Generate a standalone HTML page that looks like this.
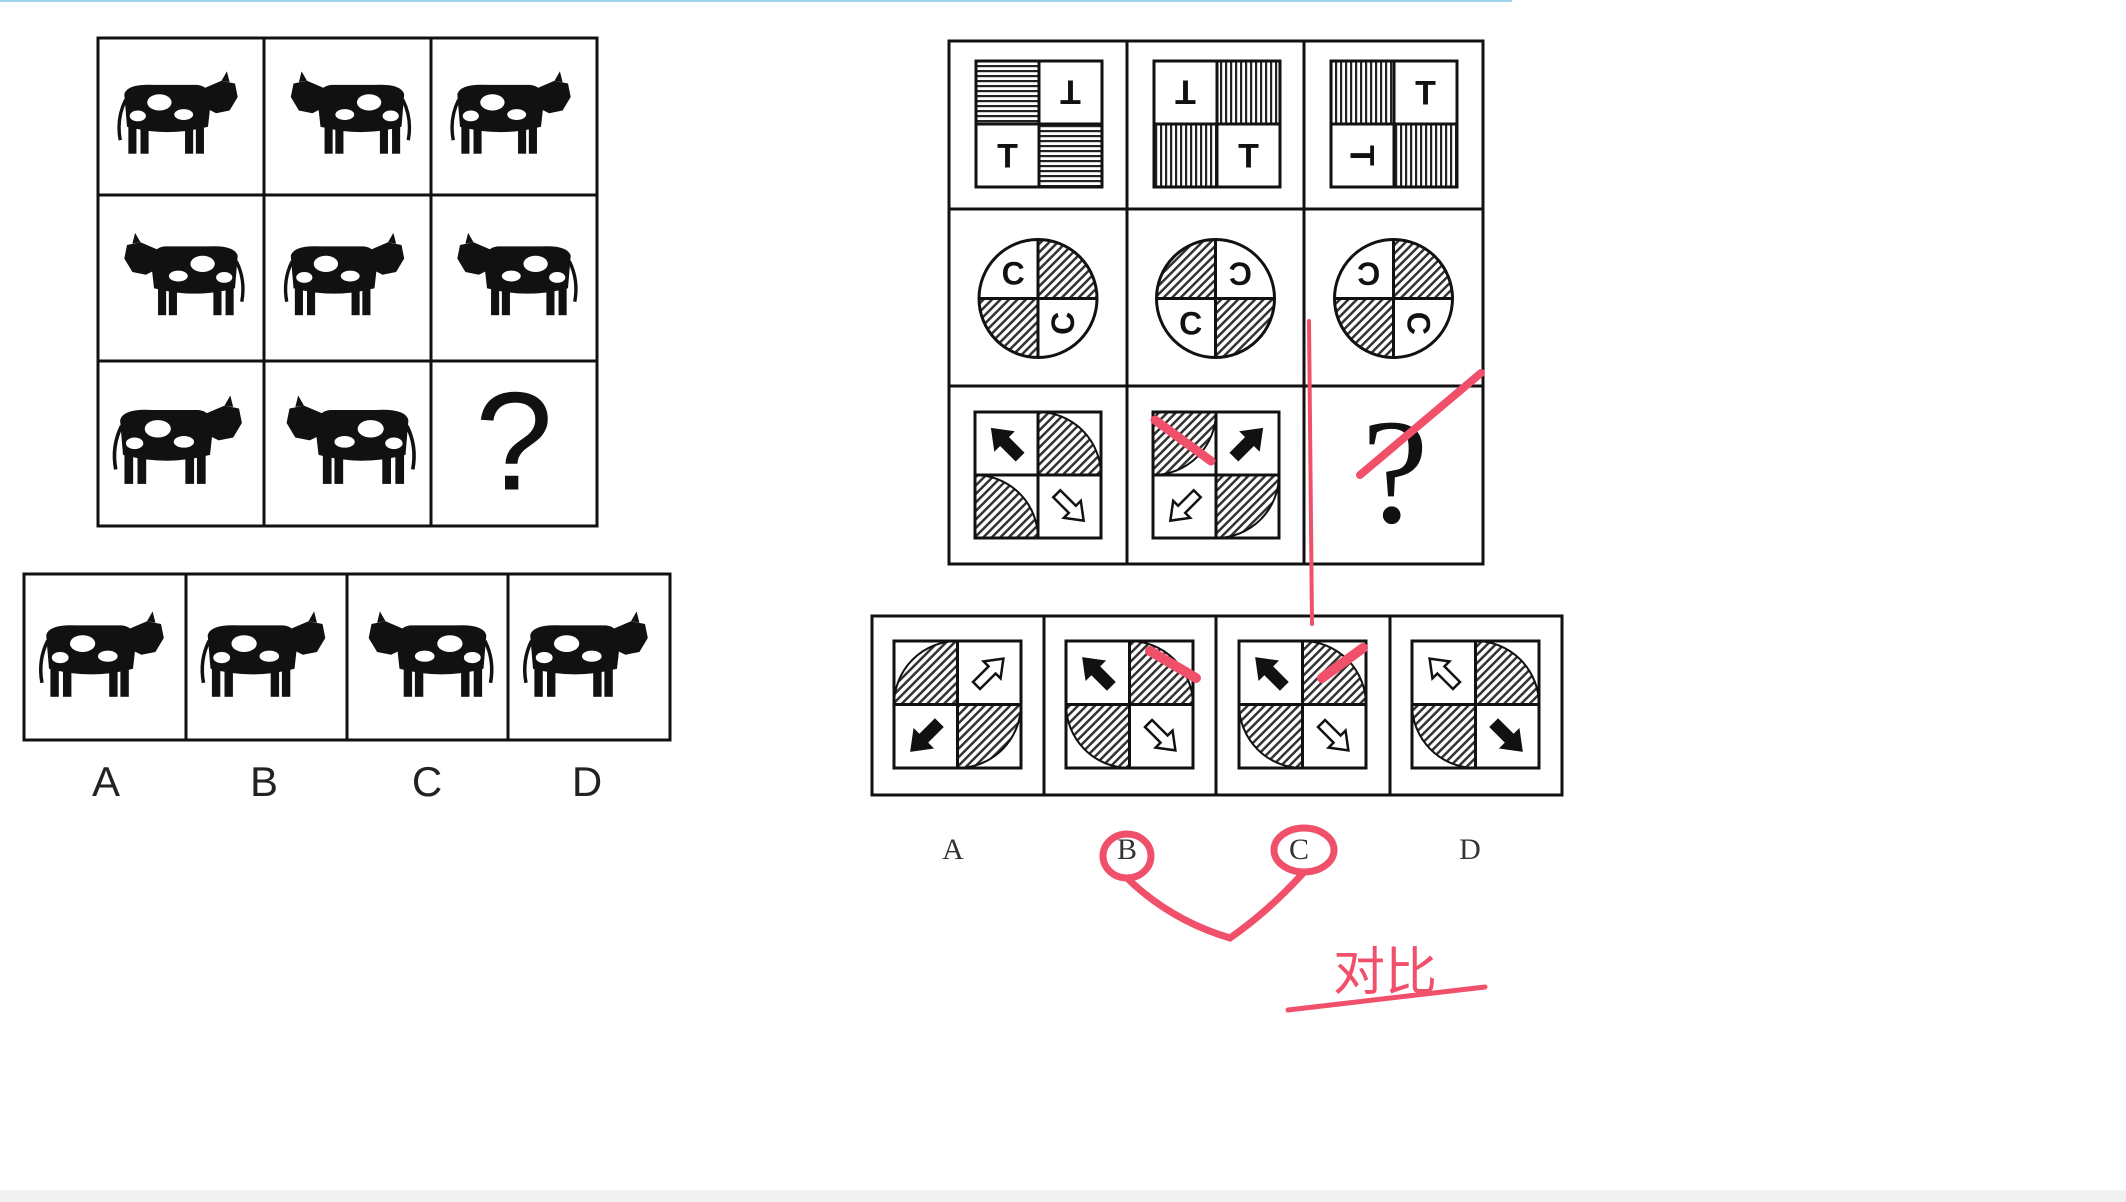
<!DOCTYPE html>
<html><head><meta charset="utf-8"><style>
html,body{margin:0;padding:0;background:#fff;width:2126px;height:1202px;overflow:hidden}
svg{display:block}
</style></head><body>
<svg id="s" width="2126" height="1202" xmlns="http://www.w3.org/2000/svg">
<defs>
<pattern id="hd" width="6" height="6" patternUnits="userSpaceOnUse" patternTransform="rotate(45)"><rect width="6" height="6" fill="#fff"/><rect width="2.5" height="6" fill="#333"/></pattern>
<pattern id="hh" width="5" height="5" patternUnits="userSpaceOnUse"><rect width="5" height="5" fill="#fff"/><rect width="5" height="2.2" fill="#222"/></pattern>
<pattern id="hv" width="5" height="5" patternUnits="userSpaceOnUse"><rect width="5" height="5" fill="#fff"/><rect width="2.2" height="5" fill="#222"/></pattern>
</defs>
<rect x="0" y="0" width="1512" height="2" fill="#9fd3f0"/>
<rect x="0" y="1190" width="2126" height="12" fill="#f1f1f1"/>
<g id="g"></g>
</svg>
<script>
const NS='http://www.w3.org/2000/svg';
const g=document.getElementById('g');
function el(t,a,p){const e=document.createElementNS(NS,t);for(const k in a)e.setAttribute(k,a[k]);(p||g).appendChild(e);return e;}
function grp(name,p){const e=el('g',{},p);return e;}
// cow glyph
function cow(cx,cy,s,flip,p){
  const c=grp('cow',p);
  cx+= flip? 10*s : -10*s;
  c.setAttribute('transform',`translate(${cx},${cy}) scale(${flip?-s:s},${s})`);
  el('path',{d:'M-32,-12 Q-30,-20 -10,-19 L22,-19 Q32,-18 32,-6 L30,12 Q0,20 -30,12 Z',fill:'#111'},c);
  el('path',{d:'M26,-16 L40,-22 L50,-20 L52,-10 L46,0 L36,2 L28,-2 Z',fill:'#111'},c);
  el('path',{d:'M40,-22 L44,-29 L46,-21Z',fill:'#111'},c);
  [[-26,-1],[-17,1],[16,0],[24,2]].forEach(l=>el('rect',{x:l[0]-3,y:6,width:6,height:26,fill:'#111'},c));
  el('ellipse',{cx:-6,cy:-6,rx:9,ry:6,fill:'#fff'},c);
  el('ellipse',{cx:12,cy:3,rx:7,ry:4,fill:'#fff'},c);
  el('ellipse',{cx:-22,cy:4,rx:6,ry:4,fill:'#fff'},c);
  el('path',{d:'M-31,-8 Q-38,6 -35,22',stroke:'#111','stroke-width':2.5,fill:'none'},c);
}
// left grid
const LX=[98,264,431,597], LY=[38,195,361,526];
const lg=grp('left-matrix');
el('rect',{x:98,y:38,width:499,height:488,fill:'none',stroke:'#111','stroke-width':3},lg);
LX.slice(1,3).forEach(x=>el('line',{x1:x,y1:38,x2:x,y2:526,stroke:'#111','stroke-width':3},lg));
LY.slice(1,3).forEach(y=>el('line',{x1:98,y1:y,x2:597,y2:y,stroke:'#111','stroke-width':3},lg));
const cowFlip=[[0,1,0],[1,0,1],[0,1]];
for(let r=0;r<3;r++)for(let c=0;c<3;c++){
  const cx=(LX[c]+LX[c+1])/2, cy=(LY[r]+LY[r+1])/2-6;
  if(r==2&&c==2){const t=el('text',{x:cx,y:cy+52,'font-size':140,'font-family':'Liberation Sans, sans-serif','text-anchor':'middle',fill:'#111'},lg);t.textContent='?';continue;}
  cow(cx,cy,r==2?1.45:1.35,cowFlip[r][c],lg);
}
const lo=grp('left-options');
el('rect',{x:24,y:574,width:646,height:166,fill:'none',stroke:'#111','stroke-width':3},lo);
[186,347,508].forEach(x=>el('line',{x1:x,y1:574,x2:x,y2:740,stroke:'#111','stroke-width':3},lo));
const optX=[24,186,347,508,670], labs=['A','B','C','D'], lLabX=[106,264,427,587];
for(let i=0;i<4;i++){cow((optX[i]+optX[i+1])/2,652,1.4,i==2,lo);
  const t=el('text',{x:lLabX[i],y:796,'font-size':42,'font-family':'Liberation Sans, sans-serif','text-anchor':'middle',fill:'#222'},lo);t.textContent=labs[i];}
// right grid
const RX=[949,1127,1304,1483], RY=[41,209,386,564];
const rg=grp('right-matrix');
el('rect',{x:949,y:41,width:534,height:523,fill:'none',stroke:'#111','stroke-width':3},rg);
RX.slice(1,3).forEach(x=>el('line',{x1:x,y1:41,x2:x,y2:564,stroke:'#111','stroke-width':3},rg));
RY.slice(1,3).forEach(y=>el('line',{x1:949,y1:y,x2:1483,y2:y,stroke:'#111','stroke-width':3},rg));
const tCells=[['h','T180','T0','h'],['T180','v','v','T0'],['v','T0','T90','v']];
function quadBox(x,y,s,content,p){
  const q=s/2,pos=[[0,0],[q,0],[0,q],[q,q]];
  content.forEach((ct,i)=>{const qx=x+pos[i][0],qy=y+pos[i][1];
    if(ct=='h'||ct=='v')el('rect',{x:qx,y:qy,width:q,height:q,fill:`url(#h${ct})`},p);
    else{const rot=+ct.slice(1);const t=el('text',{x:qx+q/2,y:qy+q/2+12,'font-size':34,'font-weight':'bold','font-family':'Liberation Sans, sans-serif','text-anchor':'middle',fill:'#111',transform:`rotate(${rot} ${qx+q/2} ${qy+q/2})`},p);t.textContent='T';}
  });
  el('rect',{x,y,width:s,height:s,fill:'none',stroke:'#111','stroke-width':3},p);
  el('line',{x1:x+q,y1:y,x2:x+q,y2:y+s,stroke:'#111','stroke-width':3},p);
  el('line',{x1:x,y1:y+q,x2:x+s,y2:y+q,stroke:'#111','stroke-width':3},p);
}
for(let c=0;c<3;c++){const cg=grp('t-square-cell',rg);quadBox(RX[c]+27,RY[0]+20,126,tCells[c],cg);}
const cCells=[['C0','hd','hd','C270'],['hd','C180','C0','hd'],['C180','hd','hd','C90']];
for(let c=0;c<3;c++){const cg=grp('circle-cell',rg);const cx=(RX[c]+RX[c+1])/2,cy=(RY[1]+RY[2])/2+1,r=59;
  el('circle',{cx,cy,r,fill:'#fff'},cg);
  const d=[[-1,-1],[1,-1],[-1,1],[1,1]];
  cCells[c].forEach((ct,i)=>{const sx=d[i][0],sy=d[i][1];
    if(ct=='hd')el('path',{d:`M${cx},${cy} L${cx+sx*r},${cy} A${r},${r} 0 0 ${sx*sy>0?1:0} ${cx},${cy+sy*r} Z`,fill:'url(#hd)'},cg);
    else{const tx=cx+sx*r*0.42,ty=cy+sy*r*0.42;const t=el('text',{x:tx,y:ty+11,'font-size':32,'font-weight':'bold','font-family':'Liberation Sans, sans-serif','text-anchor':'middle',fill:'#111',transform:`rotate(${+ct.slice(1)} ${tx} ${ty})`},cg);t.textContent='C';}
  });
  el('circle',{cx,cy,r,fill:'none',stroke:'#111','stroke-width':3},cg);
  el('line',{x1:cx-r,y1:cy,x2:cx+r,y2:cy,stroke:'#111','stroke-width':3},cg);
  el('line',{x1:cx,y1:cy-r,x2:cx,y2:cy+r,stroke:'#111','stroke-width':3},cg);
}
function arrow(cx,cy,ang,filled,p){
  const a=el('path',{d:'M0,-20 L12,-4 L5,-4 L5,18 L-5,18 L-5,-4 L-12,-4 Z',fill:filled?'#111':'#fff',stroke:'#111','stroke-width':2.5,transform:`translate(${cx},${cy}) rotate(${ang})`},p);
  
}
function arrowBox(x,y,s,content,p){
  const q=s/2,pos=[[0,0],[q,0],[0,q],[q,q]];
  el('rect',{x,y,width:s,height:s,fill:'#fff'},p);
  content.forEach((ct,i)=>{const qx=x+pos[i][0],qy=y+pos[i][1];
    if(ct[0]=='Q'){const k=ct.slice(1);const ox=k[1]=='l'?qx:qx+q,oy=k[0]=='t'?qy:qy+q;
      const ex=k[1]=='l'?qx+q:qx, ey=k[0]=='t'?qy+q:qy;
      const sw=((k=='tl'||k=='br')?1:0);
      el('path',{d:`M${ox},${oy} L${ex},${oy} A${q},${q} 0 0 ${sw} ${ox},${ey} Z`,fill:'url(#hd)',stroke:'#111','stroke-width':2},p);}
    else arrow(qx+q/2,qy+q/2,+ct.slice(1),ct[0]=='A',p);
  });
  el('rect',{x,y,width:s,height:s,fill:'none',stroke:'#111','stroke-width':3},p);
  el('line',{x1:x+q,y1:y,x2:x+q,y2:y+s,stroke:'#111','stroke-width':3},p);
  el('line',{x1:x,y1:y+q,x2:x+s,y2:y+q,stroke:'#111','stroke-width':3},p);
}
const aCells=[['A-45','Qbl','Qbl','O135'],['Qtl','A45','O-135','Qtl']];
for(let c=0;c<2;c++){const cg=grp('arrow-square-cell',rg);arrowBox(RX[c]+26,RY[2]+26,126,aCells[c],cg);}
const qm=el('text',{x:1395,y:522,'font-size':150,'font-family':'Liberation Serif, serif','text-anchor':'middle',fill:'#111'},rg);qm.textContent='?';

const ro=grp('right-options');
el('rect',{x:872,y:616,width:690,height:179,fill:'none',stroke:'#111','stroke-width':3},ro);
const RO=[872,1044,1216,1390,1562];
[1044,1216,1390].forEach(x=>el('line',{x1:x,y1:616,x2:x,y2:795,stroke:'#111','stroke-width':3},ro));
const oCells=[['Qbr','O45','A-135','Qtl'],['A-45','Qbl','Qtr','O135'],['A-45','Qbl','Qtr','O135'],['O-45','Qbl','Qtr','A135']];
const rLabX=[953,1127,1299,1470];
for(let i=0;i<4;i++){const cg=grp('option-figure',ro);arrowBox((RO[i]+RO[i+1])/2-64,641,127,oCells[i],cg);
  const t=el('text',{x:rLabX[i],y:859,'font-size':30,'font-family':'Liberation Serif, serif','text-anchor':'middle',fill:'#333'},ro);t.textContent=labs[i];}
const an=grp('red-annotations');
const red='#f0506a';
[['M1309,321 L1312,624',4],['M1360,475 L1481,373',8],['M1155,420 L1211,461',9],['M1150,651 L1196,678',10],['M1322,678 L1363,648',10],
 ['M1288,1010 L1485,987',5]].forEach(d=>el('path',{d:d[0],stroke:red,'stroke-width':d[1],fill:'none','stroke-linecap':'round'},an));
el('ellipse',{cx:1127,cy:856,rx:24,ry:22,stroke:red,'stroke-width':7,fill:'none'},an);
el('ellipse',{cx:1304,cy:850,rx:30,ry:22,stroke:red,'stroke-width':7,fill:'none'},an);
el('path',{d:'M1127,878 Q1170,920 1230,938 Q1270,910 1304,872',stroke:red,'stroke-width':7,fill:'none','stroke-linecap':'round'},an);
const tt=el('text',{x:1385,y:990,'font-size':52,'font-family':'Liberation Sans, Noto Sans CJK SC, sans-serif','text-anchor':'middle',fill:red},an);tt.textContent='对比';

</script>
</body></html>
